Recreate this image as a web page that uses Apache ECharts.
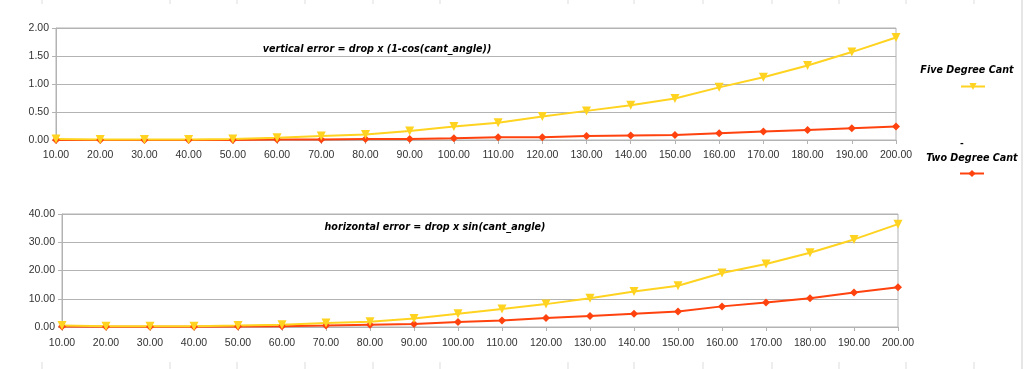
<!DOCTYPE html>
<html><head><meta charset="utf-8">
<script src="https://cdn.jsdelivr.net/npm/echarts@6/dist/echarts.min.js"></script>
<style>html,body{margin:0;padding:0;background:#fff}#c{width:1024px;height:369px}</style>
</head><body><div id="c"></div>
<script>
var categories = [10,20,30,40,50,60,70,80,90,100,110,120,130,140,150,160,170,180,190,200];
var seriesNames = ['Five Degree Cant','Two Degree Cant'];
var verticalFive = [0.02,0.01,0.01,0.01,0.02,0.04,0.07,0.10,0.16,0.24,0.31,0.42,0.52,0.62,0.74,0.94,1.12,1.33,1.57,1.83];
var verticalTwo = [0.00,0.00,0.00,0.00,0.00,0.01,0.01,0.02,0.02,0.03,0.05,0.05,0.07,0.08,0.09,0.12,0.15,0.18,0.21,0.24];
var horizontalFive = [0.5,0.3,0.3,0.3,0.5,0.8,1.4,1.9,3.0,4.7,6.4,8.1,10.2,12.6,14.6,19.1,22.3,26.3,31.0,36.4];
var horizontalTwo = [0.2,0.1,0.1,0.1,0.2,0.3,0.5,0.8,1.1,1.8,2.3,3.2,3.9,4.7,5.5,7.3,8.7,10.2,12.2,14.1];
var titles = ['vertical error = drop x (1-cos(cant_angle))','horizontal error = drop x sin(cant_angle)'];
var yTicks1 = {min:0,max:2,interval:0.5};
var yTicks2 = {min:0,max:40,interval:10};

var YEL = '#ffd320', RED = '#ff420e', GRID = '#b3b3b3';
var chart = echarts.init(document.getElementById('c'));
var catLabels = categories.map(function(v){return v.toFixed(2);});
var titleFont = {fontFamily:'DejaVu Sans', fontStyle:'italic', fontWeight:'bold', fontSize:9.6, color:'#000'};
function xAxis(gi, m){
  return {type:'category', gridIndex:gi, data:catLabels, boundaryGap:false,
    axisLine:{lineStyle:{color:GRID}}, axisTick:{show:true, alignWithLabel:true, length:4, lineStyle:{color:GRID}},
    axisLabel:{color:'#333', fontFamily:'Liberation Sans', fontSize:10.5, margin:m, interval:0}};
}
function yAxis(gi, t){
  return {type:'value', gridIndex:gi, min:t.min, max:t.max, interval:t.interval,
    axisLine:{show:true, lineStyle:{color:GRID}}, axisTick:{show:true, length:4, lineStyle:{color:GRID}},
    splitLine:{lineStyle:{color:GRID}},
    axisLabel:{color:'#333', fontFamily:'Liberation Sans', fontSize:10.5, margin:7, formatter:function(v){return v.toFixed(2);}}};
}
function line(name, data, gi, color, sym){
  return {name:name, type:'line', xAxisIndex:gi, yAxisIndex:gi, data:data, color:color,
    symbol:sym, symbolSize: sym==='diamond'?8:9, symbolRotate: sym==='triangle'?180:0,
    lineStyle:{color:color, width:2}, itemStyle:{color:color}, animation:false};
}
var ticks = [];
[42,170,237,305,373,440,568,634,703,772,839,906,974].forEach(function(x){
  ticks.push({type:'line', shape:{x1:x,y1:0,x2:x,y2:4}, style:{stroke:'#ddd', lineWidth:1}});
  ticks.push({type:'line', shape:{x1:x,y1:362,x2:x,y2:369}, style:{stroke:'#ddd', lineWidth:1}});
});
ticks.push({type:'line', shape:{x1:1022,y1:0,x2:1022,y2:369}, style:{stroke:'#e6e6e6', lineWidth:2}});
ticks.push({type:'text', left:960, top:139, style:{text:'-', font:'bold 9px DejaVu Sans', fill:'#000'}});

chart.setOption({
  animation:false,
  title:[
    {text:titles[0], left:372, top:39, textAlign:'center', textStyle:titleFont},
    {text:titles[1], left:430, top:217, textAlign:'center', textStyle:titleFont},
    {text:seriesNames[0], left:962, top:60, textAlign:'center', textStyle:titleFont},
    {text:seriesNames[1], left:967, top:148, textAlign:'center', textStyle:titleFont}
  ],
  legend:[
    {data:[seriesNames[0]], left:955, top:77, itemWidth:24, itemHeight:9, formatter:function(){return '';}, selectedMode:false},
    {data:[seriesNames[1]], left:954, top:164, itemWidth:24, itemHeight:9, formatter:function(){return '';}, selectedMode:false}
  ],
  grid:[
    {left:56, top:28, right:128, height:112, show:true, borderColor:GRID, borderWidth:1},
    {left:62, top:214, right:126, height:113, show:true, borderColor:GRID, borderWidth:1}
  ],
  xAxis:[xAxis(0, 10), xAxis(1, 11)],
  yAxis:[yAxis(0,yTicks1), yAxis(1,yTicks2)],
  series:[
    line(seriesNames[1], verticalTwo, 0, RED, 'diamond'),
    line(seriesNames[0], verticalFive, 0, YEL, 'triangle'),
    line(seriesNames[1], horizontalTwo, 1, RED, 'diamond'),
    line(seriesNames[0], horizontalFive, 1, YEL, 'triangle')
  ],
  graphic:ticks
});
</script></body></html>
